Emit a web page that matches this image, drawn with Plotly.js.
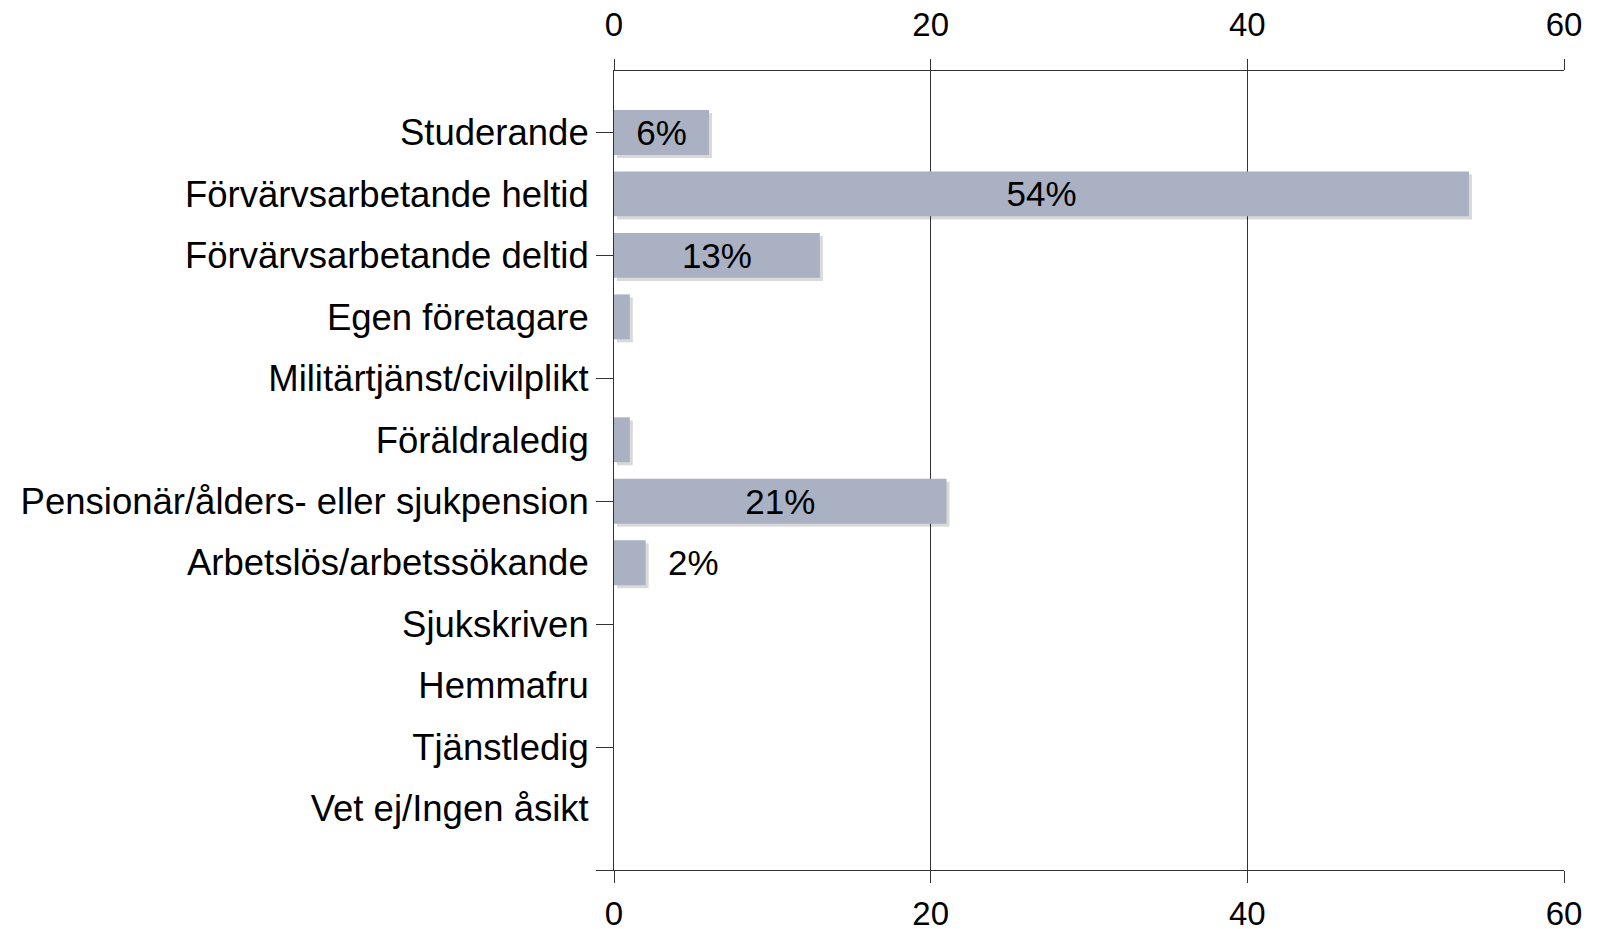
<!DOCTYPE html>
<html>
<head>
<meta charset="utf-8">
<script src="https://cdn.plot.ly/plotly-3.0.1.min.js"></script>
<style>html,body{margin:0;padding:0;background:#fff;}#chart{width:1605px;height:929px;}</style>
</head>
<body>
<div id="chart"></div>
<script>
const categories = [
  "Studerande",
  "Förvärvsarbetande heltid",
  "Förvärvsarbetande deltid",
  "Egen företagare",
  "Militärtjänst/civilplikt",
  "Föräldraledig",
  "Pensionär/ålders- eller sjukpension",
  "Arbetslös/arbetssökande",
  "Sjukskriven",
  "Hemmafru",
  "Tjänstledig",
  "Vet ej/Ingen åsikt"
];
const values = [6, 54, 13, 1, 0, 1, 21, 2, 0, 0, 0, 0];
const valueLabels = ["6%", "54%", "13%", "", "", "", "21%", "2%", "", "", "", ""];
const xTicks = [0, 20, 40, 60];

const idx = categories.map((c, i) => i);
const FONT = "Liberation Sans, Arial, sans-serif";
const barW = 0.73;
const fitsInside = values.map(v => v >= 4);

const shadow = {
  type: "bar", orientation: "h",
  x: values, y: idx, base: 0.19,
  width: barW, offset: -barW / 2 + 0.05,
  marker: {color: "rgba(0,0,0,0.15)", line: {width: 0}},
  hoverinfo: "skip", showlegend: false
};
const bars = {
  type: "bar", orientation: "h",
  x: values, y: idx,
  width: barW, offset: -barW / 2,
  marker: {color: "#a9b1c3", line: {width: 0}},
  text: valueLabels.map((t, i) => fitsInside[i] ? t : ""),
  textposition: "inside", insidetextanchor: "middle",
  textangle: 0, constraintext: "none",
  insidetextfont: {family: FONT, size: 35, color: "#000"},
  hoverinfo: "skip", showlegend: false
};
const dummy = {
  type: "scatter", mode: "markers", x: [null], y: [null],
  xaxis: "x2", yaxis: "y2", hoverinfo: "skip", showlegend: false
};

const outsideLabels = [];
valueLabels.forEach((t, i) => {
  if (t && !fitsInside[i]) {
    outsideLabels.push({
      x: values[i], y: idx[i], xref: "x", yref: "y",
      text: t, showarrow: false, xanchor: "left", yanchor: "middle",
      xshift: 20, font: {family: FONT, size: 35, color: "#000"}
    });
  }
});

const layout = {
  width: 1605, height: 929,
  margin: {l: 614, r: 41, t: 71, b: 59},
  paper_bgcolor: "#fff", plot_bgcolor: "#fff",
  barmode: "overlay",
  showlegend: false,
  font: {family: FONT, color: "#000"},
  annotations: outsideLabels,
  xaxis: {
    range: [0, 60], tickvals: xTicks, ticktext: xTicks.map(String),
    side: "bottom", showgrid: true, gridcolor: "#333", gridwidth: 1,
    zeroline: false, showline: true, linecolor: "#333", linewidth: 1,
    ticks: "outside", ticklen: 12, tickcolor: "#333", tickwidth: 1,
    tickfont: {family: FONT, size: 33, color: "#000"},
    ticklabelstandoff: 2,
    fixedrange: true
  },
  xaxis2: {
    range: [0, 60], tickvals: xTicks, ticktext: xTicks.map(String),
    overlaying: "x", side: "top", anchor: "y",
    showgrid: false, zeroline: false, showline: true, linecolor: "#333", linewidth: 1,
    ticks: "outside", ticklen: 11, tickcolor: "#333", tickwidth: 1,
    tickfont: {family: FONT, size: 33, color: "#000"},
    ticklabelstandoff: 10,
    fixedrange: true
  },
  yaxis: {
    range: [12, -1], tickvals: idx, ticktext: categories,
    showgrid: false, zeroline: false, showline: true, linecolor: "#333", linewidth: 1,
    ticks: "outside", ticklen: 17, tickcolor: "rgba(0,0,0,0)",
    tickfont: {family: FONT, size: 36.5, color: "#000"},
    ticklabelstandoff: 0,
    fixedrange: true
  },
  yaxis2: {
    range: [12, -1], overlaying: "y", side: "left", anchor: "x",
    tickmode: "linear", tick0: 0, dtick: 2,
    showticklabels: false, showgrid: false, zeroline: false, showline: false,
    ticks: "outside", ticklen: 17, tickcolor: "#333", tickwidth: 1,
    fixedrange: true
  }
};

Plotly.newPlot("chart", [shadow, bars, dummy], layout, {displayModeBar: false, staticPlot: true});
</script>
</body>
</html>
